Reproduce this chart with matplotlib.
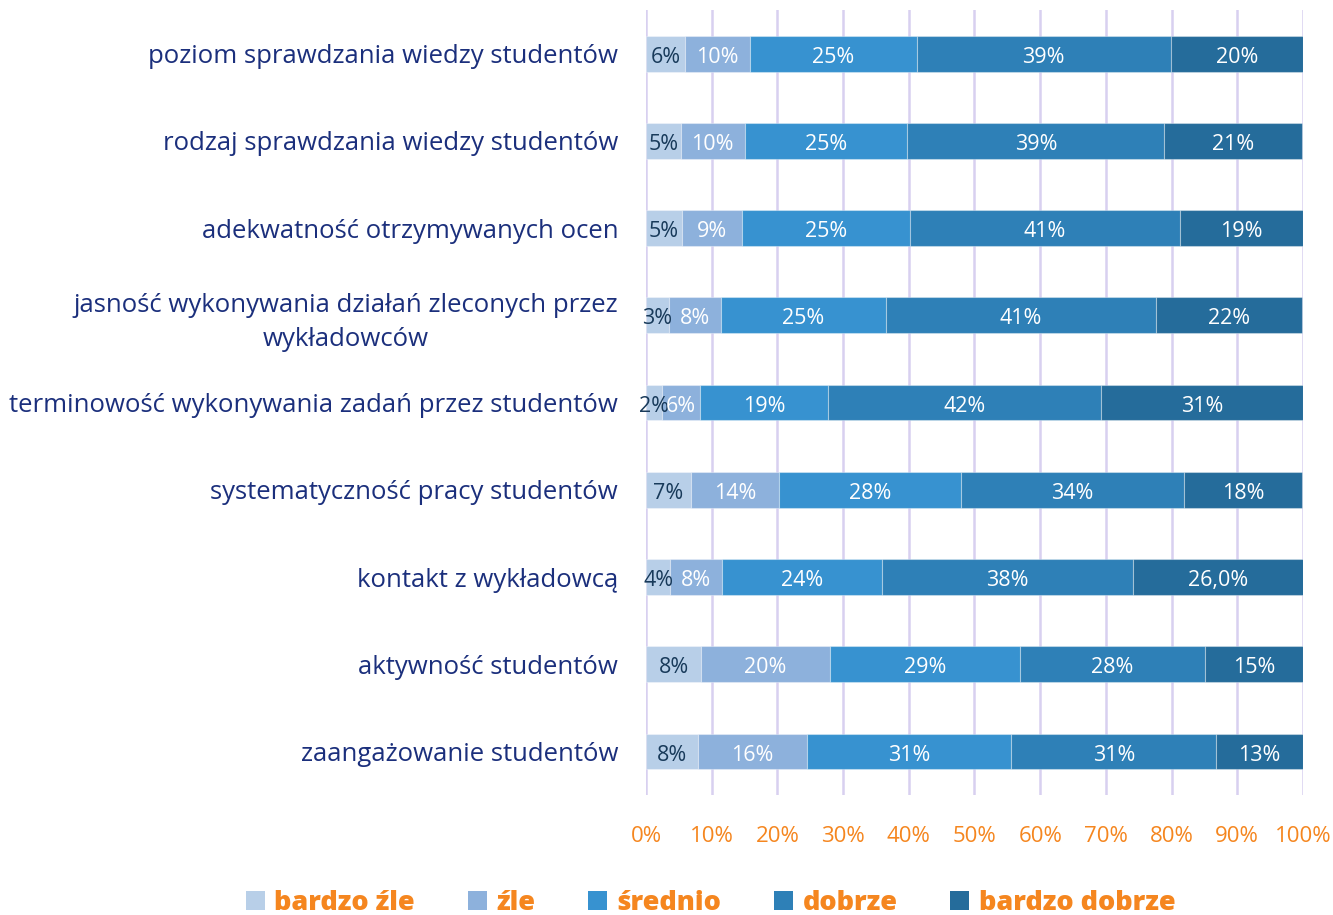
import matplotlib
matplotlib.use("Agg")
import matplotlib.pyplot as plt
from matplotlib.patches import Patch
import numpy as np

plt.rcParams['font.family'] = ['Open Sans', 'DejaVu Sans']

categories = [
    "poziom sprawdzania wiedzy studentów",
    "rodzaj sprawdzania wiedzy studentów",
    "adekwatność otrzymywanych ocen",
    "jasność wykonywania działań zleconych przez\nwykładowców",
    "terminowość wykonywania zadań przez studentów",
    "systematyczność pracy studentów",
    "kontakt z wykładowcą",
    "aktywność studentów",
    "zaangażowanie studentów",
]
series_names = ["bardzo źle", "źle", "średnio", "dobrze", "bardzo dobrze"]

bardzo_zle = [5.9, 5.3, 5.5, 3.5, 2.4, 6.8, 3.7, 8.4, 7.9]
zle = [9.9, 9.7, 9.1, 7.9, 5.8, 13.5, 7.8, 19.6, 16.6]
srednio = [25.4, 24.8, 25.6, 25.1, 19.5, 27.7, 24.4, 28.9, 31.1]
dobrze = [38.7, 39.1, 41.1, 41.2, 41.6, 33.9, 38.2, 28.2, 31.2]
bardzo_dobrze = [20.1, 21.0, 18.7, 22.2, 30.7, 18.0, 26.0, 14.9, 13.2]

labels_bardzo_zle = ["6%", "5%", "5%", "3%", "2%", "7%", "4%", "8%", "8%"]
labels_zle = ["10%", "10%", "9%", "8%", "6%", "14%", "8%", "20%", "16%"]
labels_srednio = ["25%", "25%", "25%", "25%", "19%", "28%", "24%", "29%", "31%"]
labels_dobrze = ["39%", "39%", "41%", "41%", "42%", "34%", "38%", "28%", "31%"]
labels_bardzo_dobrze = ["20%", "21%", "19%", "22%", "31%", "18%", "26,0%", "15%", "13%"]

x_ticks = [0, 10, 20, 30, 40, 50, 60, 70, 80, 90, 100]

colors = ["#b8cfe8", "#8db1dc", "#3792d0", "#2e80b7", "#256c9b"]
text_colors = ["#183a5a", "white", "white", "white", "white"]

series = [bardzo_zle, zle, srednio, dobrze, bardzo_dobrze]
labels = [labels_bardzo_zle, labels_zle, labels_srednio, labels_dobrze, labels_bardzo_dobrze]

fig = plt.figure(figsize=(13.33, 9.15), dpi=100)
ax = fig.add_axes([0.4846, 0.131, 0.4929, 0.858])

y = np.arange(len(categories))
left = np.zeros(len(categories))
for vals, col, tc, labs, name in zip(series, colors, text_colors, labels, series_names):
    vals = np.array(vals)
    ax.barh(y, vals, left=left, height=0.41, color=col, edgecolor=(1, 1, 1, 0.35),
            linewidth=0.8, label=name, zorder=3)
    for yi, l, v, t in zip(y, left, vals, labs):
        ax.text(l + v / 2, yi + 0.04, t, ha="center", va="center", color=tc,
                fontsize=15.5, zorder=4)
    left = left + vals

ax.set_xlim(0, 100)
ax.set_ylim(8.5, -0.5)
ax.set_xticks(x_ticks)
ax.set_xticklabels([f"{t}%" for t in x_ticks], color="#f5861f", fontsize=16)
ax.set_yticks(y)
ax.set_yticklabels(categories, color="#1b2f7c", fontsize=18.5)
ax.tick_params(axis="y", length=0, pad=20)
ax.tick_params(axis="x", length=0, pad=22)
for lab in ax.get_yticklabels():
    lab.set_horizontalalignment("right")
    lab.set_multialignment("center")
    lab.set_linespacing(1.45)

for s in ax.spines.values():
    s.set_visible(False)
ax.xaxis.grid(True, color="#d8d0f0", linewidth=1.8, zorder=0)
ax.set_axisbelow(True)

handles = [Patch(facecolor=c, label=n) for c, n in zip(colors, series_names)]
leg = fig.legend(handles=handles, loc="center", bbox_to_anchor=(0.533, 0.013), ncol=5,
                 frameon=False, handlelength=0.7, handleheight=0.7, handletextpad=0.35,
                 columnspacing=1.95, prop={"weight": "heavy", "size": 19.5})
for t in leg.get_texts():
    t.set_color("#f5861f")

fig.savefig("out.png", dpi=100)
